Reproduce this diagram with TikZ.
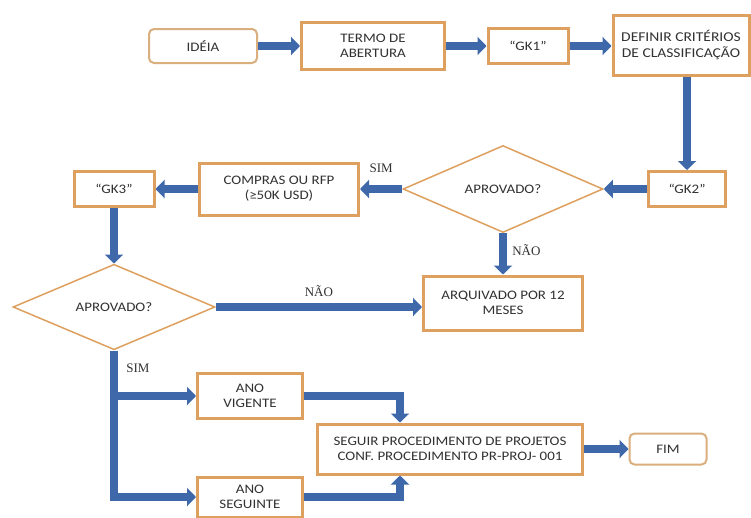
\documentclass[tikz,border=0pt]{standalone}
\usepackage{fontspec}
\setmainfont{Carlito}[FakeStretch=1.15]
\newfontfamily\serifa{Liberation Serif}
\usepackage{tikz}
\usetikzlibrary{shapes.geometric,arrows.meta}
\definecolor{laranja}{RGB}{222,160,95}
\definecolor{laranjaclaro}{RGB}{218,175,125}
\definecolor{azul}{RGB}{62,104,170}
\definecolor{cinza}{RGB}{50,50,50}

\begin{document}
\begin{tikzpicture}[x=1pt,y=-1pt,
  caixa/.style={draw=laranja, line width=3pt, fill=white, text=cinza, align=center,
    inner sep=1pt, font=\fontsize{13}{15}\selectfont},
  arred/.style={caixa, draw=laranjaclaro, line width=2pt, rounded corners=5pt},
  losango/.style={diamond, draw=laranja, line width=1.5pt, fill=white, text=cinza,
    inner sep=0pt, font=\fontsize{13}{15}\selectfont},
  seta/.style={draw=azul, line width=8pt, -{Triangle[length=9pt,width=18pt]}},
  rotulo/.style={text=cinza, font=\serifa\fontsize{13}{15}\selectfont}]
\useasboundingbox[fill=white] (0,0) rectangle (751,517);
\node[arred, minimum width=108pt, minimum height=34pt] (ideia) at (203,46) {IDÉIA};
\node[caixa, minimum width=143pt, minimum height=47pt] (termo) at (373,46) {TERMO DE\\ABERTURA};
\node[caixa, minimum width=80pt, minimum height=35pt] (gk1) at (528,46) {“GK1”};
\node[caixa, minimum width=136pt, minimum height=60pt, font=\fontsize{13.5}{16}\selectfont] (definir) at (681,45) {DEFINIR CRITÉRIOS\\DE CLASSIFICAÇÃO};
\node[caixa, minimum width=77pt, minimum height=35pt] (gk2) at (687,189) {“GK2”};
\node[losango, minimum width=200pt, minimum height=87pt] (ap1) at (503,189) {APROVADO?};
\node[caixa, minimum width=159pt, minimum height=52pt] (compras) at (279,189) {COMPRAS OU RFP\\(≥50K USD)};
\node[caixa, minimum width=80pt, minimum height=35pt] (gk3) at (114,189) {“GK3”};
\node[losango, minimum width=202pt, minimum height=84pt] (ap2) at (114,307) {APROVADO?};
\node[caixa, minimum width=159pt, minimum height=54pt] (arquivado) at (503,303) {ARQUIVADO POR 12\\MESES};
\node[caixa, minimum width=105pt, minimum height=45pt] (anov) at (250,396) {ANO\\VIGENTE};
\node[caixa, minimum width=105pt, minimum height=40pt] (anos) at (250,497) {ANO\\SEGUINTE};
\node[caixa, minimum width=265pt, minimum height=50pt] (seguir) at (450,449) {SEGUIR PROCEDIMENTO DE PROJETOS\\CONF. PROCEDIMENTO PR-PROJ- 001};
\node[arred, minimum width=77pt, minimum height=31pt] (fim) at (668,449) {FIM};
\coordinate (entra1) at ([xshift=-50pt]seguir.north);
\coordinate (entra2) at ([xshift=-50pt]seguir.south);

\draw[seta] (ideia) -- (termo);
\draw[seta] (termo) -- (gk1);
\draw[seta] (gk1) -- (definir.west |- gk1);
\draw[seta] (gk2.north |- definir.south) -- (gk2.north);
\draw[seta] (gk2) -- (ap1.east);
\draw[seta] (ap1.west) -- node[rotulo, above=9pt]{SIM} (compras);
\draw[seta] (ap1.south) -- node[rotulo, right=2pt, pos=0.4]{NÃO} (arquivado);
\draw[seta] (compras) -- (gk3);
\draw[seta] (gk3) -- (ap2.north);
\draw[seta] (ap2.east) -- node[rotulo, above=3pt]{NÃO} (ap2.east -| arquivado.west);
\draw[seta] (ap2.south) |- node[rotulo, right=5pt, pos=0.2]{SIM} (anov);
\draw[seta] (ap2.south) |- (anos);
\draw[seta] (anov) -| (entra1);
\draw[seta] (anos) -| (entra2);
\draw[seta] (seguir) -- (fim);
\end{tikzpicture}
\end{document}
